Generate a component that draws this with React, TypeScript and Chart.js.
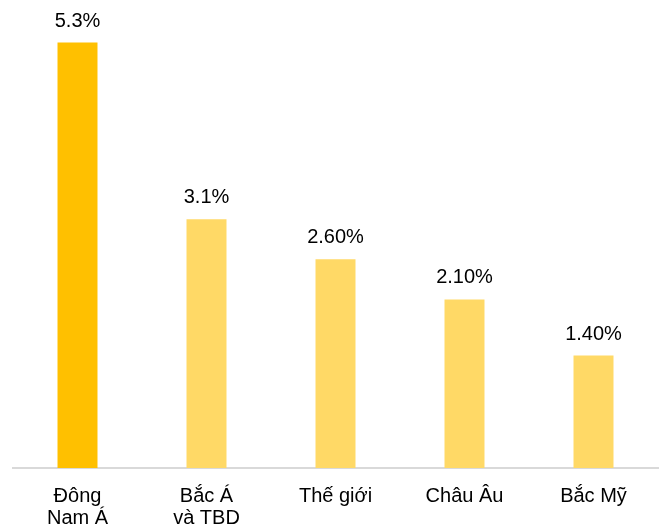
import React, { useEffect, useRef } from "react";
import { Chart, registerables } from "chart.js";

Chart.register(...registerables);

const categories: string[][] = [["Đông", "Nam Á"], ["Bắc Á", "và TBD"], ["Thế giới"], ["Châu Âu"], ["Bắc Mỹ"]];
const values: number[] = [5.3, 3.1, 2.6, 2.1, 1.4];
const valueLabels: string[] = ["5.3%", "3.1%", "2.60%", "2.10%", "1.40%"];
const barColors: string[] = ["#FFC000", "#FFD966", "#FFD966", "#FFD966", "#FFD966"];

const FONT = "Arial, 'Liberation Sans', sans-serif";

const valueLabelPlugin = {
  id: "valueLabels",
  afterDatasetsDraw(chart: any) {
    const ctx = chart.ctx;
    const meta = chart.getDatasetMeta(0);
    ctx.save();
    ctx.font = `20px ${FONT}`;
    ctx.fillStyle = "#000000";
    ctx.textAlign = "center";
    ctx.textBaseline = "alphabetic";
    meta.data.forEach((bar: any, i: number) => {
      ctx.fillText(valueLabels[i], bar.x, bar.y - 16);
    });
    ctx.restore();
  },
};

export default function App() {
  const ref = useRef<HTMLCanvasElement>(null);
  useEffect(() => {
    if (!ref.current) return;
    const chart = new Chart(ref.current, {
      type: "bar",
      data: {
        labels: categories,
        datasets: [
          {
            data: values,
            backgroundColor: barColors,
            borderWidth: 0,
            categoryPercentage: 1,
            barPercentage: 0.31,
          },
        ],
      },
      options: {
        animation: false,
        responsive: false,
        maintainAspectRatio: false,
        layout: { padding: { left: 13, right: 3, top: 0, bottom: 0 } },
        plugins: { legend: { display: false }, tooltip: { enabled: false } },
        scales: {
          y: {
            display: false,
            min: 0,
            max: 5.83,
          },
          x: {
            grid: { display: false, drawTicks: false },
            border: { display: true, color: "#D9D9D9", width: 2 },
            ticks: {
              color: "#000000",
              padding: 17,
              maxRotation: 0,
              autoSkip: false,
              font: { family: FONT, size: 20, lineHeight: 1.1 },
            },
            afterFit(scale: any) {
              scale.height = 58;
            },
          },
        },
      },
      plugins: [valueLabelPlugin],
    });
    return () => chart.destroy();
  }, []);
  return (
    <div style={{ position: "fixed", left: 0, top: 0, width: 661, height: 526, background: "#fff" }}>
      <canvas ref={ref} width={661} height={526} style={{ display: "block" }} />
    </div>
  );
}
